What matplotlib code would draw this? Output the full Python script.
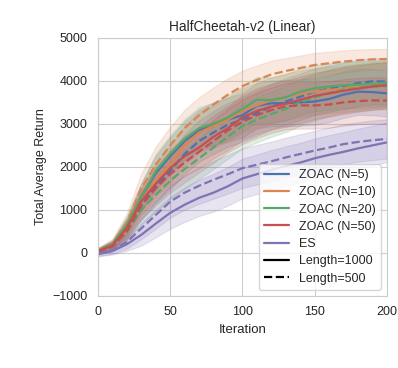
import matplotlib
matplotlib.use('Agg')
import matplotlib.pyplot as plt
import numpy as np
import seaborn as sns
from matplotlib.lines import Line2D

# iterations sampled every 10 steps
iters = [0, 10, 20, 30, 40, 50, 60, 70, 80, 90, 100, 110, 120, 130, 140, 150, 160, 170, 180, 190, 200]

# mean returns, Length=1000 (solid) and Length=500 (dashed)
zoac5_1000 = [40, 180, 620, 1300, 1850, 2250, 2600, 2850, 3000, 3100, 3200, 3420, 3480, 3480, 3500, 3520, 3580, 3680, 3750, 3740, 3710]
zoac5_500 = [30, 150, 520, 1100, 1550, 1900, 2300, 2600, 2800, 2980, 3100, 3250, 3400, 3520, 3630, 3750, 3820, 3880, 3950, 3990, 3985]
zoac10_1000 = [50, 170, 560, 1200, 1700, 2050, 2500, 2800, 2950, 3100, 3300, 3430, 3550, 3630, 3700, 3750, 3790, 3820, 3860, 3900, 3920]
zoac10_500 = [60, 220, 700, 1500, 2050, 2500, 2900, 3200, 3450, 3680, 3880, 4020, 4150, 4230, 4300, 4370, 4410, 4450, 4480, 4500, 4510]
zoac20_1000 = [50, 200, 650, 1300, 1900, 2300, 2650, 2900, 3000, 3150, 3350, 3560, 3550, 3620, 3750, 3830, 3870, 3900, 3910, 3930, 3950]
zoac20_500 = [30, 150, 480, 1000, 1350, 1680, 1950, 2200, 2450, 2700, 2950, 3100, 3230, 3350, 3500, 3620, 3720, 3800, 3840, 3870, 3880]
zoac50_1000 = [40, 170, 580, 1200, 1600, 1970, 2250, 2450, 2700, 2900, 3150, 3300, 3400, 3470, 3560, 3650, 3710, 3770, 3820, 3870, 3900]
zoac50_500 = [30, 150, 500, 1100, 1500, 1830, 2100, 2350, 2600, 2850, 3050, 3200, 3320, 3410, 3430, 3430, 3450, 3500, 3530, 3545, 3545]
es_1000 = [-30, 40, 200, 420, 680, 930, 1120, 1280, 1400, 1550, 1730, 1830, 1930, 2020, 2100, 2200, 2280, 2350, 2430, 2500, 2570]
es_500 = [-20, 60, 250, 570, 880, 1190, 1400, 1560, 1700, 1830, 1970, 2050, 2130, 2220, 2300, 2380, 2450, 2530, 2580, 2620, 2650]

# standard deviations (shaded bands)
std_zoac = [60, 100, 200, 320, 400, 430, 460, 480, 500, 510, 520, 530, 530, 540, 540, 540, 540, 540, 540, 540, 540]
std_zoac10_500 = [60, 110, 220, 350, 420, 430, 430, 420, 400, 380, 360, 340, 320, 300, 290, 280, 270, 260, 250, 240, 230]
std_es = [50, 80, 150, 250, 320, 370, 400, 420, 440, 450, 460, 460, 460, 460, 460, 460, 460, 460, 460, 460, 460]

labels = ['ZOAC (N=5)', 'ZOAC (N=10)', 'ZOAC (N=20)', 'ZOAC (N=50)', 'ES']
colors = ['#4c72b0', '#dd8452', '#55a868', '#c44e52', '#8172b3']

sns.set_style('whitegrid')
plt.rcParams['font.family'] = ['Liberation Sans', 'DejaVu Sans']

fig = plt.figure(figsize=(3.98, 3.68), dpi=100)
ax = fig.add_axes([0.246, 0.196, 0.726, 0.701])

runs = [
    (zoac5_1000, std_zoac, 0, '-'), (zoac5_500, std_zoac, 0, '--'),
    (zoac10_1000, std_zoac, 1, '-'), (zoac10_500, std_zoac10_500, 1, '--'),
    (zoac20_1000, std_zoac, 2, '-'), (zoac20_500, std_zoac, 2, '--'),
    (zoac50_1000, std_zoac, 3, '-'), (zoac50_500, std_zoac, 3, '--'),
    (es_1000, std_es, 4, '-'), (es_500, std_es, 4, '--'),
]

x = np.array(iters)
for mean, std, ci, ls in runs:
    m = np.array(mean)
    s = np.array(std)
    ax.fill_between(x, m - s, m + s, color=colors[ci], alpha=0.18, linewidth=0.8)
for mean, std, ci, ls in runs:
    ax.plot(x, mean, color=colors[ci], linestyle=ls, linewidth=1.6)

ax.set_xlim(0, 200)
ax.set_ylim(-1000, 5000)
ax.set_xticks([0, 50, 100, 150, 200])
ax.set_yticks([-1000, 0, 1000, 2000, 3000, 4000, 5000])
ax.tick_params(labelsize=9, pad=4)
ax.set_title('HalfCheetah-v2 (Linear)', fontsize=9.8, pad=5)
ax.set_xlabel('Iteration', fontsize=9.5)
ax.set_ylabel('Total Average Return', fontsize=9)

handles = [Line2D([0], [0], color=c, linewidth=1.6) for c in colors]
handles += [Line2D([0], [0], color='black', linewidth=1.6, linestyle='-'),
            Line2D([0], [0], color='black', linewidth=1.6, linestyle='--')]
ax.legend(handles, labels + ['Length=1000', 'Length=500'], loc='lower right',
          fontsize=9, labelspacing=0.42)

fig.savefig('out.png', dpi=100)
